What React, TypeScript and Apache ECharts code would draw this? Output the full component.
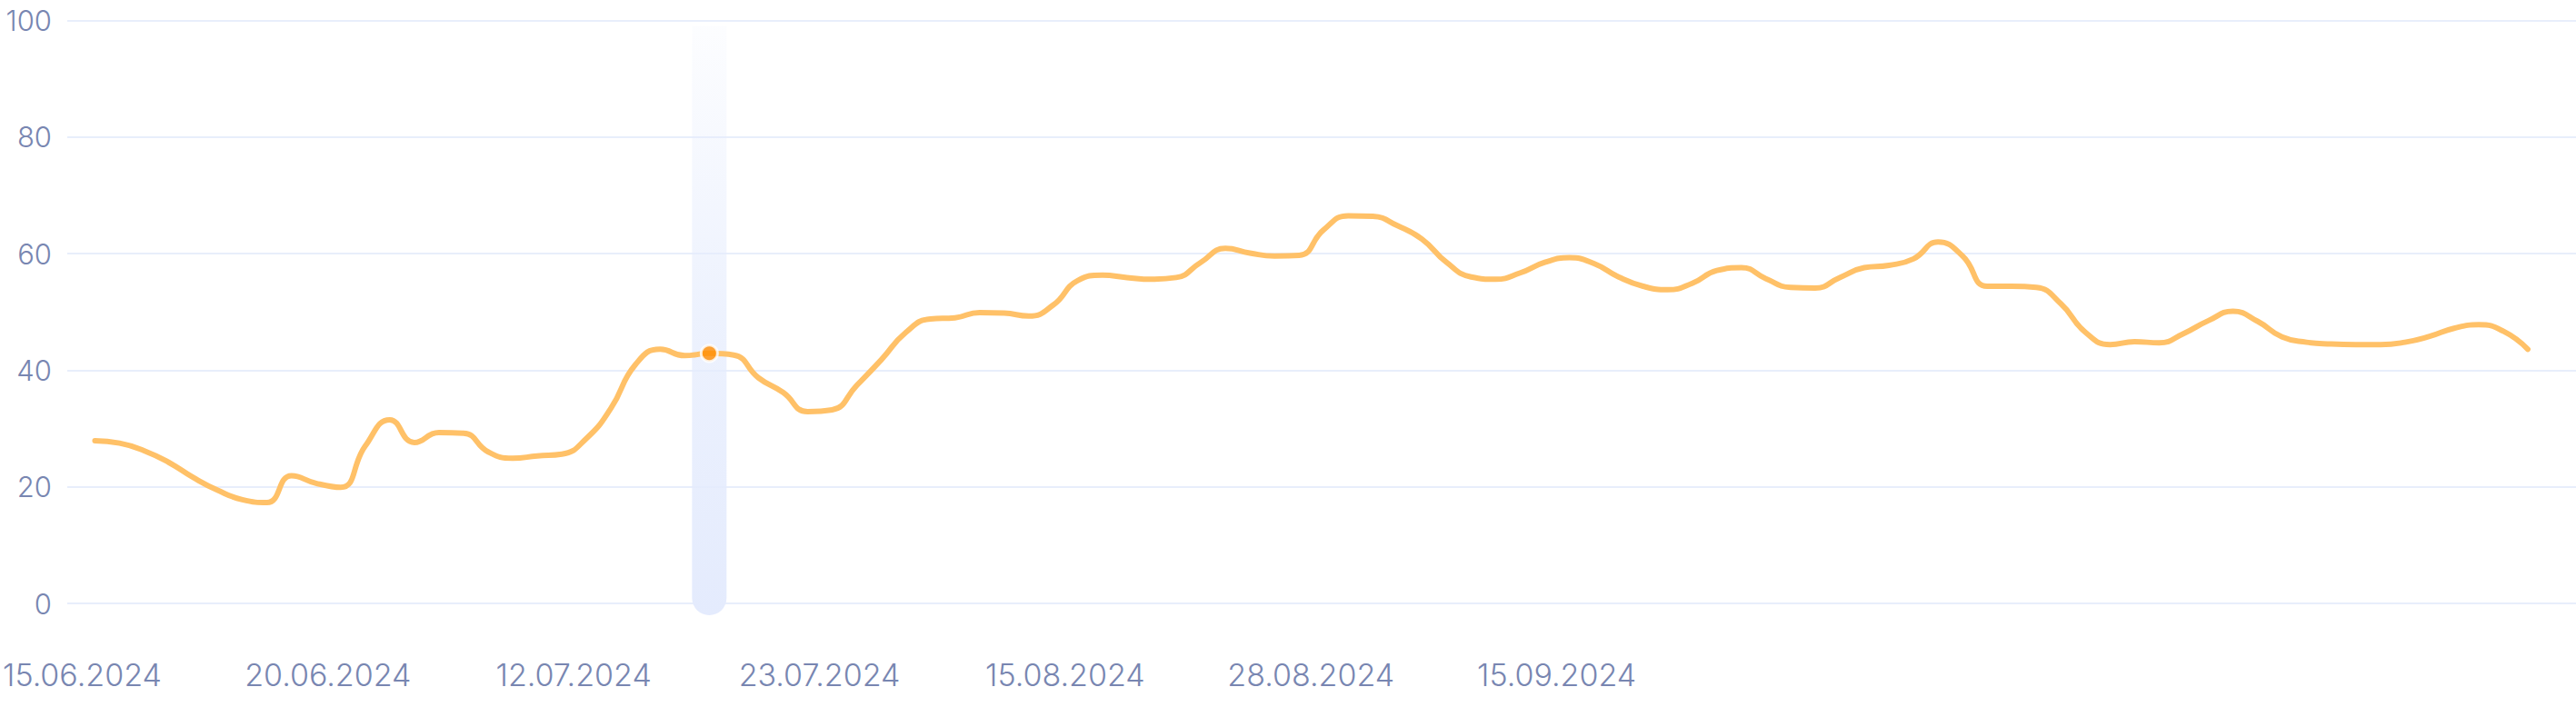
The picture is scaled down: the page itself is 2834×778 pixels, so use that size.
import React, { useEffect, useRef } from "react";
import * as echarts from "echarts";

// Series values (one per category)
const values: number[] = [
  27.9, 27.5, 26.2, 24.2, 21.6, 19.4, 17.8, 17.3, 21.9, 20.6,
  19.9, 27.0, 31.5, 27.6, 29.3, 29.2, 26.0, 24.9, 25.3, 25.6,
  28.3, 33.5, 41.0, 43.6, 42.5, 42.9, 42.6, 38.7, 36.2, 32.9,
  33.2, 37.4, 41.8, 46.5, 48.8, 49.0, 49.9, 49.8, 49.3, 51.2,
  55.4, 56.3, 55.9, 55.6, 55.9, 58.5, 60.9, 60.1, 59.6, 59.7,
  64.1, 66.5, 66.4, 64.8, 62.5, 58.5, 56.0, 55.6, 56.7, 58.5,
  59.3, 58.3, 56.0, 54.4, 53.8, 54.9, 57.1, 57.6, 55.7, 54.2,
  54.1, 55.9, 57.6, 58.0, 59.1, 62.0, 59.6, 54.4, 54.4, 54.2,
  51.4, 46.5, 44.4, 44.9, 44.7, 46.3, 48.5, 50.1, 48.4, 45.7,
  44.8, 44.5, 44.4, 44.4, 44.8, 45.8, 47.2, 47.8, 46.7, 43.6,
];

// Tick labels shown on the x axis (every labelStep-th category)
const tickLabels: string[] = [
  "15.06.2024",
  "20.06.2024",
  "12.07.2024",
  "23.07.2024",
  "15.08.2024",
  "28.08.2024",
  "15.09.2024",
];
const labelStep = 10;

// Categories
const categories: string[] = values.map((_, i) => `d${i}`);

// Highlighted category
const highlightIndex = 25;

// Y axis ticks
const yMin = 0;
const yMax = 100;
const yInterval = 20;

const labelColor = "#7886b1";
const gridColor = "#e8eefb";
const fontFamily = "Inter, 'Noto Sans', sans-serif";

export default function App() {
  const ref = useRef<HTMLDivElement>(null);

  useEffect(() => {
    if (!ref.current) return;
    const chart = echarts.init(ref.current, undefined, { renderer: "svg" });

    const option: any = {
      animation: false,
      backgroundColor: "#ffffff",
      grid: [
        { left: 74, right: 0, top: 22.5, bottom: 114 },
        { left: 102, right: 53, top: 22.5, bottom: 114 },
      ],
      xAxis: [
        { gridIndex: 0, type: "value", min: 0, max: 1, show: false },
        {
          gridIndex: 1,
          type: "category",
          data: categories,
          boundaryGap: false,
          axisLine: { show: false },
          axisTick: { show: false },
          splitLine: { show: false },
          axisLabel: {
            interval: labelStep - 1,
            color: labelColor,
            fontSize: 34,
            fontWeight: 300,
            fontFamily,
            margin: 61,
            padding: [0, 28, 0, 0],
            formatter: (_v: string, idx: number) => {
              if (idx % labelStep !== 0) return "";
              return tickLabels[idx / labelStep] ?? "";
            },
          },
        },
      ],
      yAxis: [
        {
          gridIndex: 0,
          type: "value",
          min: yMin,
          max: yMax,
          interval: yInterval,
          axisLine: { show: false },
          axisTick: { show: false },
          splitLine: { show: true, lineStyle: { color: gridColor, width: 2 } },
          axisLabel: {
            color: labelColor,
            fontSize: 31,
            fontWeight: 300,
            fontFamily,
            margin: 17,
          },
        },
        {
          gridIndex: 1,
          type: "value",
          min: yMin,
          max: yMax,
          interval: yInterval,
          show: false,
        },
      ],
      series: [
        {
          type: "custom",
          xAxisIndex: 1,
          yAxisIndex: 1,
          z: 1,
          clip: false,
          data: [[highlightIndex, yMax]],
          renderItem: (_params: any, api: any) => {
            const idx = api.value(0);
            const top = api.coord([idx, yMax]);
            const bottom = api.coord([idx, yMin]);
            const w = 38;
            const ext = 13;
            const y0 = top[1] + 6;
            return {
              type: "rect",
              shape: {
                x: top[0] - w / 2,
                y: y0,
                width: w,
                height: bottom[1] + ext - y0,
                r: [0, 0, w / 2, w / 2],
              },
              style: {
                fill: new echarts.graphic.LinearGradient(0, 0, 0, 1, [
                  { offset: 0, color: "rgba(229,236,253,0.1)" },
                  { offset: 0.5, color: "rgba(229,236,253,0.7)" },
                  { offset: 1, color: "rgba(228,235,253,1)" },
                ]),
              },
            };
          },
        },
        {
          type: "line",
          xAxisIndex: 1,
          yAxisIndex: 1,
          z: 3,
          data: values,
          smooth: 0.5,
          showSymbol: false,
          lineStyle: { color: "#ffc168", width: 6, cap: "round" },
        },
        {
          type: "scatter",
          xAxisIndex: 1,
          yAxisIndex: 1,
          z: 4,
          data: values.map((v, i) => (i === highlightIndex ? v : "-")),
          symbol: "circle",
          symbolSize: 18,
          itemStyle: { color: "#ff8c00", borderColor: "#ffffff", borderWidth: 3 },
        },
      ],
    };

    chart.setOption(option);
    return () => chart.dispose();
  }, []);

  return (
    <div
      ref={ref}
      style={{ position: "fixed", left: 0, top: 0, width: 2834, height: 778, background: "#fff" }}
    />
  );
}
